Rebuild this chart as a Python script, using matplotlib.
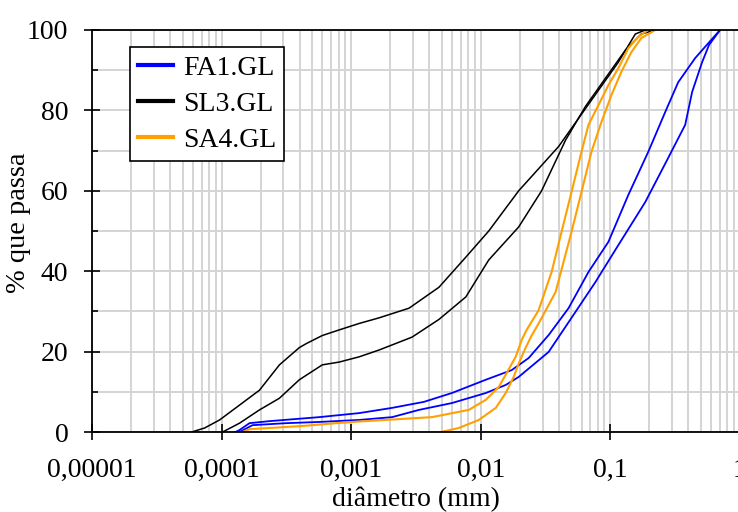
import matplotlib
matplotlib.use("Agg")
import matplotlib.pyplot as plt
from matplotlib.ticker import LogLocator, NullFormatter, MultipleLocator

plt.rcParams['font.family'] = ['Liberation Serif', 'DejaVu Serif']

# ---- data (diameter in mm, % passing) ----
sl3_a_d = [5.88e-5, 7.40e-5, 9.65e-5, 1.376e-4, 1.960e-4, 2.794e-4, 3.981e-4, 4.507e-4,
           5.983e-4, 8.084e-4, 1.152e-3, 1.642e-3, 2.794e-3, 4.753e-3, 7.666e-3, 0.01152,
           0.0196, 0.02794, 0.03981, 0.05673, 0.08084, 0.1152, 0.1557, 0.1858]
sl3_a_p = [0, 1, 3, 6.7, 10.4, 16.7, 21, 22, 24, 25.4, 27, 28.4, 30.8, 36, 43.5, 50,
           60, 65.5, 71, 78, 85, 92, 99, 100]

sl3_b_d = [1.018e-4, 1.376e-4, 1.96e-4, 2.794e-4, 3.981e-4, 5.983e-4, 8.084e-4, 1.152e-3,
           1.642e-3, 2.946e-3, 4.753e-3, 7.666e-3, 0.01152, 0.0196, 0.02946, 0.04507,
           0.06424, 0.09152, 0.1305, 0.1732, 0.2220]
sl3_b_p = [0, 2.2, 5.5, 8.4, 13, 16.7, 17.4, 18.7, 20.4, 23.6, 28, 33.6, 42.8, 51, 60,
           72.6, 81, 88, 95, 99, 100]

fa1_a_d = [1.282e-4, 1.376e-4, 1.642e-4, 2.34e-4, 5.673e-4, 1.152e-3, 2.068e-3, 3.644e-3,
           5.983e-3, 0.01093, 0.01732, 0.0234, 0.03335, 0.04753, 0.06772, 0.09652, 0.1376,
           0.1960, 0.2649, 0.3335, 0.4507, 0.5983, 0.7019]
fa1_a_p = [0, 0.5, 2.2, 2.7, 3.7, 4.7, 6, 7.5, 9.7, 13, 15.4, 18.4, 24.1, 30.8, 39.8,
           47.3, 59, 69.7, 79.6, 87, 93, 97.5, 100]

fa1_b_d = [1.376e-4, 1.732e-4, 3.162e-4, 5.673e-4, 1.152e-3, 2.068e-3, 3.335e-3, 5.983e-3,
           0.01093, 0.01557, 0.0196, 0.03335, 0.05012, 0.07666, 0.1152, 0.1858, 0.2794,
           0.3776, 0.4273, 0.5102, 0.5773, 0.7019]
fa1_b_p = [0, 1.7, 2.2, 2.5, 3, 3.7, 5.5, 7.2, 9.7, 11.7, 13.7, 19.9, 28.4, 37.3, 46.5,
           57.2, 68.2, 76.4, 84.6, 92, 96.3, 100]

sa4_a_d = [1.451e-4, 1.642e-4, 2.34e-4, 4.199e-4, 7.666e-4, 1.018e-3, 4.199e-3, 8.084e-3,
           0.01093, 0.01376, 0.01585, 0.01858, 0.02068, 0.02259, 0.02794, 0.03518, 0.04199,
           0.05012, 0.05983, 0.06772, 0.08084, 0.09652, 0.1152, 0.1376, 0.1642, 0.1960]
sa4_a_p = [0, 0.7, 1, 1.5, 2.2, 2.5, 3.7, 5.5, 8, 11.2, 14.7, 18.7, 22.9, 25.4, 30.3,
           39.8, 49.8, 59.7, 69.7, 76.4, 81.3, 86.3, 90.5, 95.5, 98.3, 100]

sa4_b_d = [4.924e-3, 6.772e-3, 9.652e-3, 0.01305, 0.01557, 0.01794, 0.0196, 0.0222,
           0.02468, 0.02794, 0.03776, 0.05012, 0.05983, 0.0714, 0.08526, 0.1018, 0.1215,
           0.1451, 0.1732, 0.222]
sa4_b_p = [0, 1, 3, 6, 9.7, 13.7, 17, 21, 24, 27, 34.8, 49.8, 59.7, 69.7, 77.1, 83.8,
           89.6, 94.5, 98, 100]

labels = ["FA1.GL", "SL3.GL", "SA4.GL"]
xticks = [1e-5, 1e-4, 1e-3, 1e-2, 1e-1, 1]
xticklabels = ["0,00001", "0,0001", "0,001", "0,01", "0,1", "1"]
yticks = [0, 20, 40, 60, 80, 100]

fig = plt.figure(figsize=(7.38, 5.12), dpi=100)
ax = fig.add_axes([92/738, 1-432/512, 648/738, 402/512])

ax.set_xscale('log')
ax.set_xlim(1e-5, 1)
ax.set_ylim(0, 100)

ax.plot(fa1_a_d, fa1_a_p, color='#0000ff', lw=1.3, label=labels[0])
ax.plot(fa1_b_d, fa1_b_p, color='#0000ff', lw=1.3)
ax.plot(sl3_a_d, sl3_a_p, color='black', lw=1.1, label=labels[1])
ax.plot(sl3_b_d, sl3_b_p, color='black', lw=1.1)
ax.plot(sa4_a_d, sa4_a_p, color='#ffa000', lw=1.5, label=labels[2])
ax.plot(sa4_b_d, sa4_b_p, color='#ffa000', lw=1.5)

ax.set_xticks(xticks, xticklabels)
ax.xaxis.set_minor_locator(LogLocator(base=10, subs=range(2, 10)))
ax.xaxis.set_minor_formatter(NullFormatter())
ax.set_yticks(yticks)
ax.yaxis.set_minor_locator(MultipleLocator(10))

ax.grid(True, which='both', color='#d4d4d4', lw=1.4)
ax.set_axisbelow(True)

ax.tick_params(axis='both', which='major', direction='inout', length=12, width=1.2,
               labelsize=20)
ax.tick_params(axis='y', which='major', pad=11)
ax.tick_params(axis='x', which='major', pad=13)
ax.tick_params(axis='y', which='minor', direction='in', length=4.5, width=1.2)
ax.tick_params(axis='x', which='minor', length=0)

for s in ['left', 'bottom', 'top']:
    ax.spines[s].set_linewidth(1.3)
    ax.spines[s].set_color('black')
ax.spines['right'].set_visible(False)

ax.set_xlabel('diâmetro (mm)', fontsize=20, va='top')
ax.xaxis.set_label_coords(0.5, (432 - 487) / 402)
ax.set_ylabel('% que passa', fontsize=20.5)
ax.yaxis.set_label_coords((31 - 92) / 648, 0.52)

leg = ax.legend(loc='upper left', bbox_to_anchor=((130 - 92) / 648, (432 - 47) / 402),
                fontsize=20, frameon=True, fancybox=False, edgecolor='black',
                framealpha=1, handlelength=1.25, handletextpad=0.35, borderpad=0.3,
                labelspacing=0.38, borderaxespad=0)
leg.get_frame().set_linewidth(1.2)
for h in leg.get_lines():
    h.set_linewidth(3)

fig.savefig('out.png', dpi=100)
